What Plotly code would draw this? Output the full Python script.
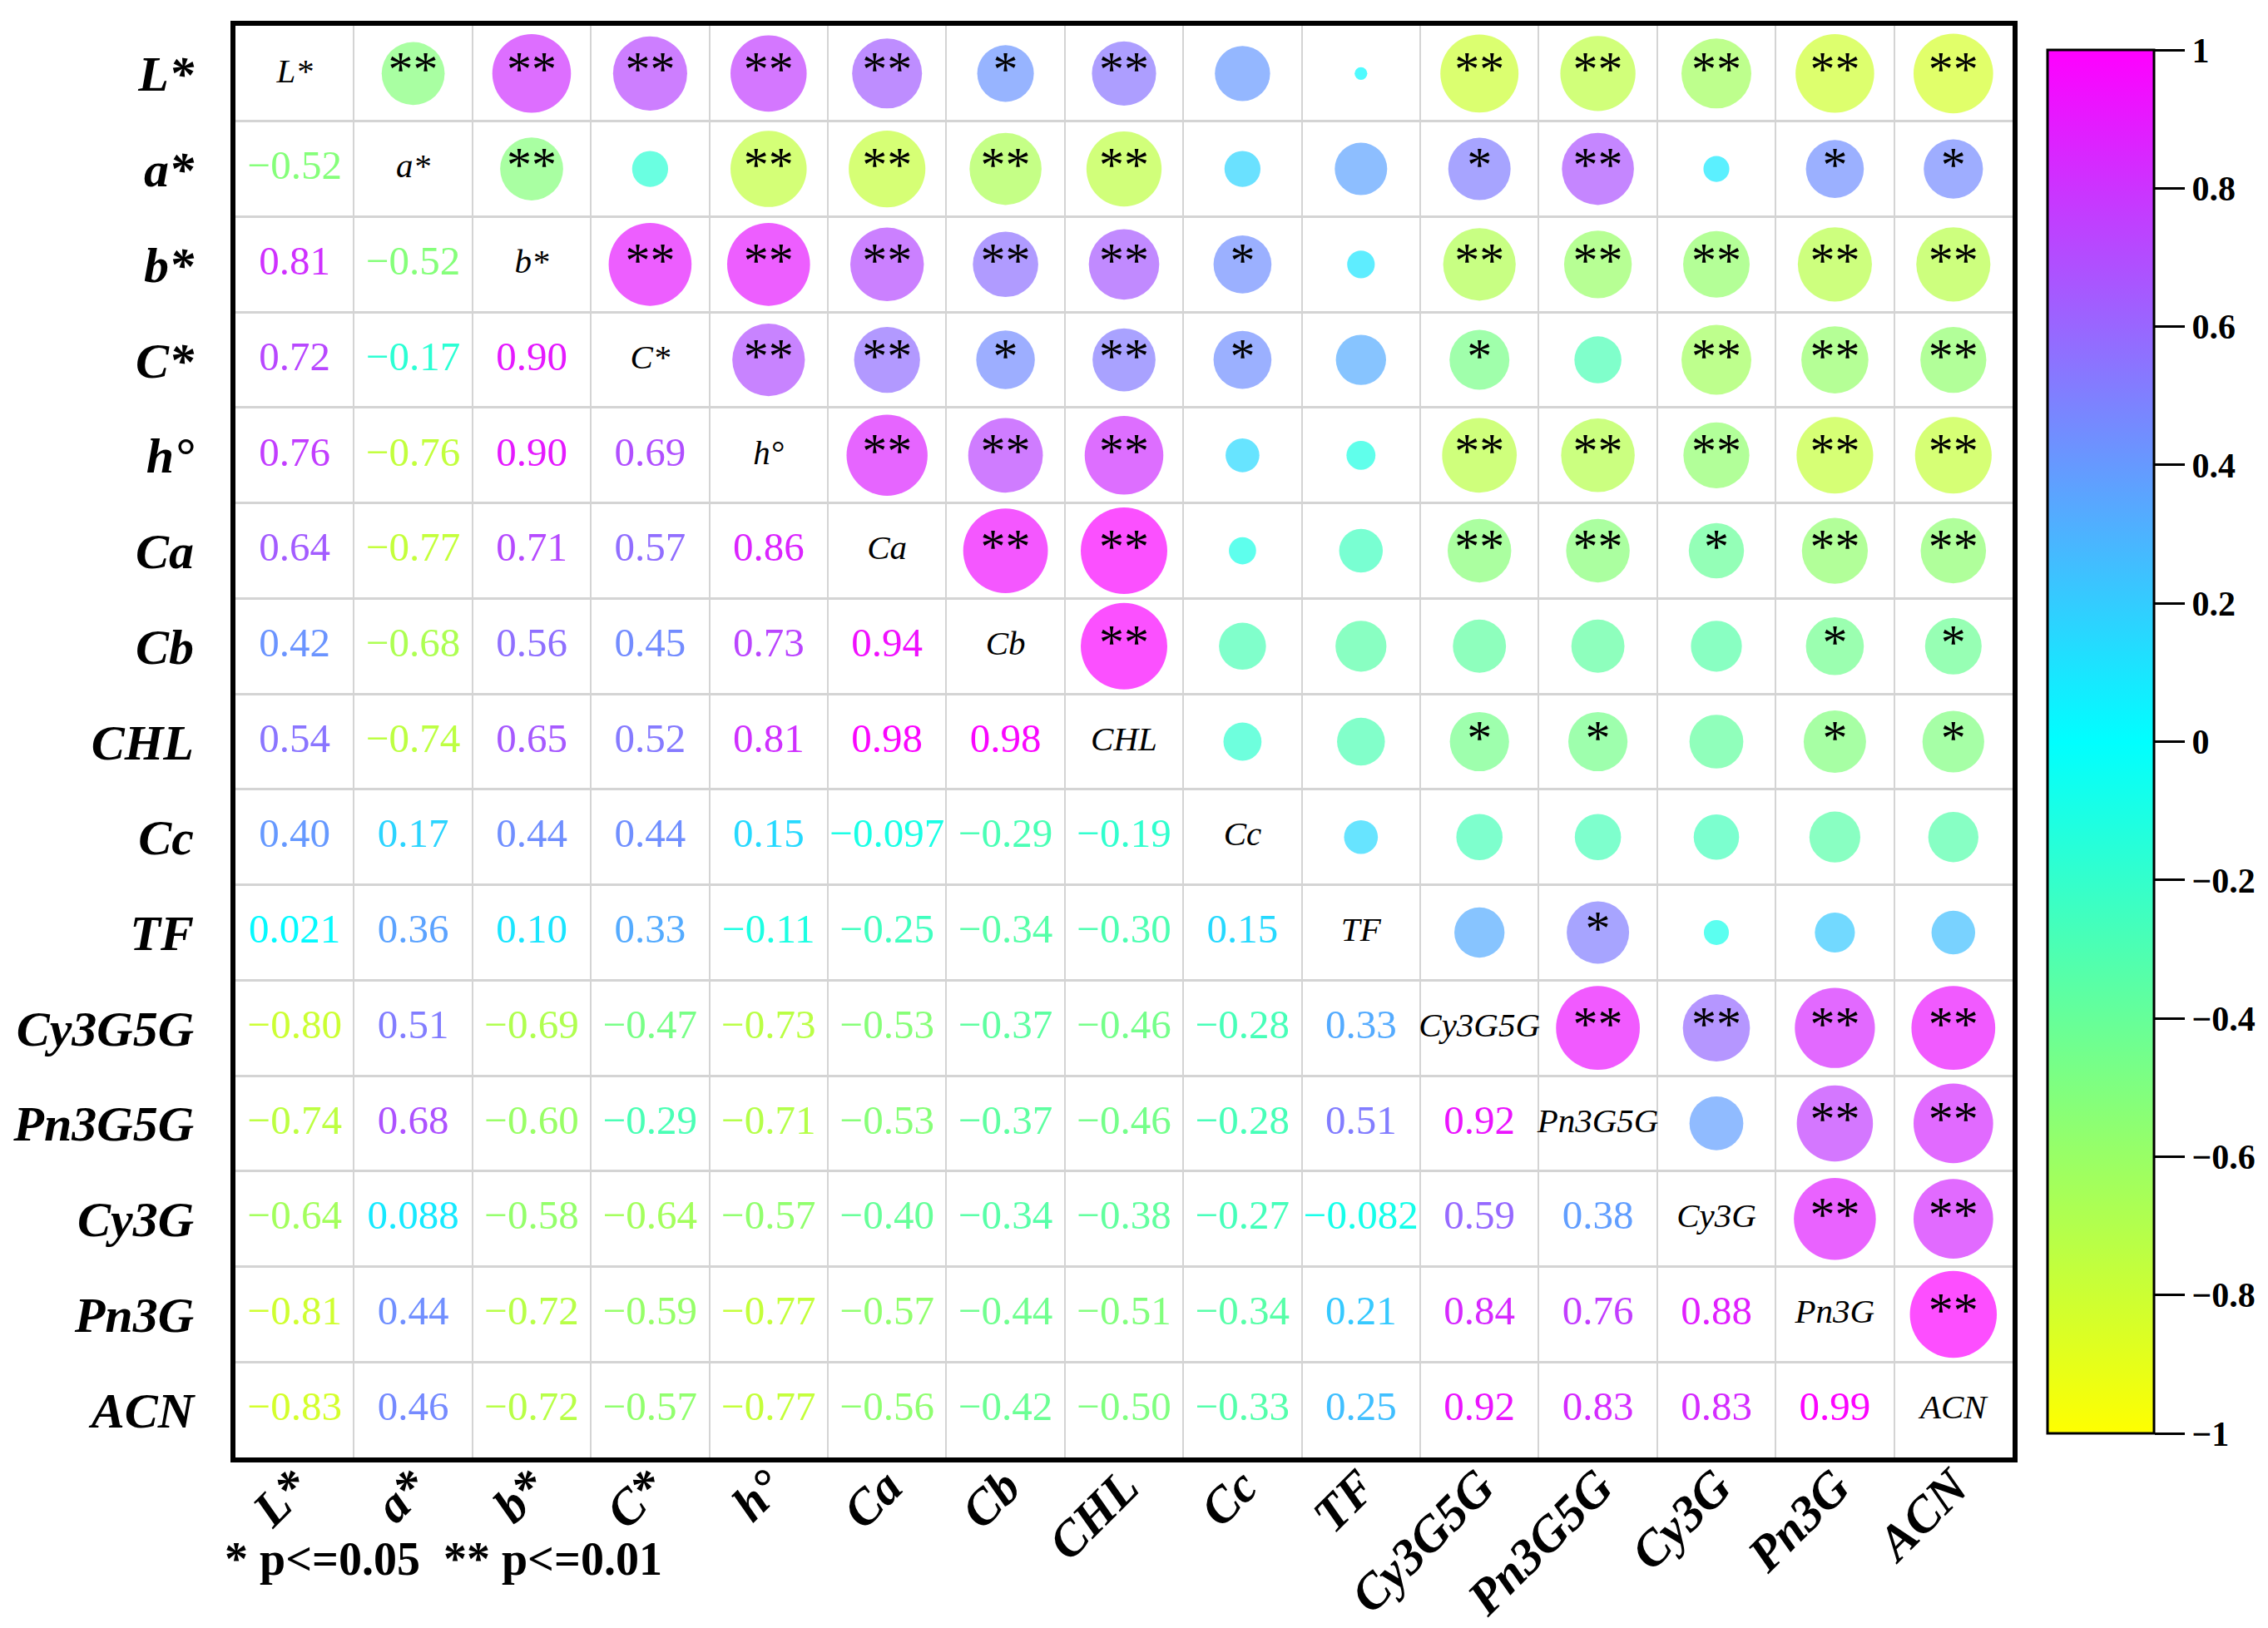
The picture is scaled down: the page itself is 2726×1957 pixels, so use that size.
import plotly.graph_objects as go
from plotly.colors import sample_colorscale

# variable names
labels = ["L*", "a*", "b*", "C*", "h°", "Ca", "Cb", "CHL", "Cc", "TF",
          "Cy3G5G", "Pn3G5G", "Cy3G", "Pn3G", "ACN"]

# lower triangle, row by row (values left of the diagonal)
r_a = [-0.52]
r_b = [0.81, -0.52]
r_C = [0.72, -0.17, 0.90]
r_h = [0.76, -0.76, 0.90, 0.69]
r_Ca = [0.64, -0.77, 0.71, 0.57, 0.86]
r_Cb = [0.42, -0.68, 0.56, 0.45, 0.73, 0.94]
r_CHL = [0.54, -0.74, 0.65, 0.52, 0.81, 0.98, 0.98]
r_Cc = [0.40, 0.17, 0.44, 0.44, 0.15, -0.097, -0.29, -0.19]
r_TF = [0.021, 0.36, 0.10, 0.33, -0.11, -0.25, -0.34, -0.30, 0.15]
r_Cy3G5G = [-0.80, 0.51, -0.69, -0.47, -0.73, -0.53, -0.37, -0.46, -0.28, 0.33]
r_Pn3G5G = [-0.74, 0.68, -0.60, -0.29, -0.71, -0.53, -0.37, -0.46, -0.28, 0.51, 0.92]
r_Cy3G = [-0.64, 0.088, -0.58, -0.64, -0.57, -0.40, -0.34, -0.38, -0.27, -0.082, 0.59, 0.38]
r_Pn3G = [-0.81, 0.44, -0.72, -0.59, -0.77, -0.57, -0.44, -0.51, -0.34, 0.21, 0.84, 0.76, 0.88]
r_ACN = [-0.83, 0.46, -0.72, -0.57, -0.77, -0.56, -0.42, -0.50, -0.33, 0.25, 0.92, 0.83, 0.83, 0.99]

# significance right of the diagonal (0 none, 1 p<=0.05, 2 p<=0.01)
s_L = [2, 2, 2, 2, 2, 1, 2, 0, 0, 2, 2, 2, 2, 2]
s_a = [2, 0, 2, 2, 2, 2, 0, 0, 1, 2, 0, 1, 1]
s_b = [2, 2, 2, 2, 2, 1, 0, 2, 2, 2, 2, 2]
s_C = [2, 2, 1, 2, 1, 0, 1, 0, 2, 2, 2]
s_h = [2, 2, 2, 0, 0, 2, 2, 2, 2, 2]
s_Ca = [2, 2, 0, 0, 2, 2, 1, 2, 2]
s_Cb = [2, 0, 0, 0, 0, 0, 1, 1]
s_CHL = [0, 0, 1, 1, 0, 1, 1]
s_Cc = [0, 0, 0, 0, 0, 0]
s_TF = [0, 1, 0, 0, 0]
s_Cy3G5G = [2, 2, 2, 2]
s_Pn3G5G = [0, 2, 2]
s_Cy3G = [2, 2]
s_Pn3G = [2]

cbar_vals = [1, 0.8, 0.6, 0.4, 0.2, 0, -0.2, -0.4, -0.6, -0.8, -1]
cbar_text = ["1", "0.8", "0.6", "0.4", "0.2", "0",
             "\u22120.2", "\u22120.4", "\u22120.6", "\u22120.8", "\u22121"]

lower = [[], r_a, r_b, r_C, r_h, r_Ca, r_Cb, r_CHL, r_Cc, r_TF,
         r_Cy3G5G, r_Pn3G5G, r_Cy3G, r_Pn3G, r_ACN]
sig = [s_L, s_a, s_b, s_C, s_h, s_Ca, s_Cb, s_CHL, s_Cc, s_TF,
       s_Cy3G5G, s_Pn3G5G, s_Cy3G, s_Pn3G, []]

cscale = [[0, "#FFFF00"], [0.5, "#00FFFF"], [1, "#FF00FF"]]
n = len(labels)


def corr(i, j):
    return lower[max(i, j)][min(i, j)]


def fmt(v):
    s = f"{abs(v):.3f}" if abs(v) < 0.1 else f"{abs(v):.2f}"
    return ("\u2212" if v < 0 else "") + s


# upper triangle: circles + stars
cx, cy, cv, sx, sy, st = [], [], [], [], [], []
for i in range(n):
    for j in range(i + 1, n):
        v = corr(i, j)
        cx.append(j); cy.append(i); cv.append(v)
        k = sig[i][j - i - 1]
        if k:
            sx.append(j); sy.append(i); st.append("*" * k)

# lower triangle: numbers
tx, ty, tt, tc = [], [], [], []
for i in range(n):
    for j in range(i):
        v = corr(i, j)
        tx.append(j); ty.append(i); tt.append(fmt(v))
        tc.append(sample_colorscale(cscale, [(v + 1) / 2])[0])

serif = "Liberation Serif"
fig = go.Figure()

fig.add_trace(go.Scatter(
    x=cx, y=cy, mode="markers",
    marker=dict(size=[105 * abs(v) ** 0.5 for v in cv], sizemode="diameter",
                color=cv, colorscale=cscale, cmin=-1, cmax=1,
                line=dict(width=0),
                colorbar=dict(x=1.015, xanchor="left", y=0.5, yanchor="middle",
                              len=0.978, lenmode="fraction", thickness=128,
                              outlinewidth=3, outlinecolor="black",
                              ticks="outside", ticklen=36, tickwidth=3,
                              tickcolor="black",
                              tickvals=cbar_vals, ticktext=cbar_text,
                              tickfont=dict(family=serif, size=42,
                                            color="black", weight="bold"))),
    hoverinfo="skip", showlegend=False))

fig.add_trace(go.Scatter(
    x=sx, y=sy, mode="text", text=st, textposition="middle center",
    textfont=dict(family=serif, size=60, color="black"),
    hoverinfo="skip", showlegend=False))

fig.add_trace(go.Scatter(
    x=tx, y=ty, mode="text", text=tt, textposition="middle center",
    textfont=dict(family=serif, size=49, color=tc),
    hoverinfo="skip", showlegend=False))

fig.add_trace(go.Scatter(
    x=list(range(n)), y=list(range(n)), mode="text", text=labels,
    textposition="middle center",
    textfont=dict(family=serif, size=41, color="black", style="italic"),
    hoverinfo="skip", showlegend=False))

axis_font = dict(family=serif, size=60, color="black", weight="bold", style="italic")
fig.update_xaxes(range=[-0.5, n - 0.5], tickvals=list(range(n)), ticktext=labels,
                 tickangle=-45, tickfont=axis_font, showgrid=False, zeroline=False,
                 showline=True, mirror=True, linewidth=6, linecolor="black",
                 ticks="", ticklabelstandoff=-30, automargin=False,
                 minor=dict(tick0=0.5, dtick=1, showgrid=True,
                            gridcolor="#D4D4D4", gridwidth=2, ticks=""))
fig.update_yaxes(range=[n - 0.5, -0.5], tickvals=list(range(n)), ticktext=labels,
                 tickfont=axis_font, showgrid=False, zeroline=False,
                 showline=True, mirror=True, linewidth=6, linecolor="black",
                 ticks="", ticklabelstandoff=32, automargin=False,
                 minor=dict(tick0=0.5, dtick=1, showgrid=True,
                            gridcolor="#D4D4D4", gridwidth=3, ticks=""))

fig.add_annotation(text="* p<=0.05  ** p<=0.01", xref="paper", yref="paper",
                   x=-0.007, y=-0.071, xanchor="left", yanchor="middle",
                   showarrow=False,
                   font=dict(family=serif, size=56, color="black", weight="bold"))

fig.update_layout(width=2726, height=1957, plot_bgcolor="white",
                  paper_bgcolor="white",
                  margin=dict(l=275, r=315, t=23, b=213, autoexpand=False))

fig.write_html("out.html")
